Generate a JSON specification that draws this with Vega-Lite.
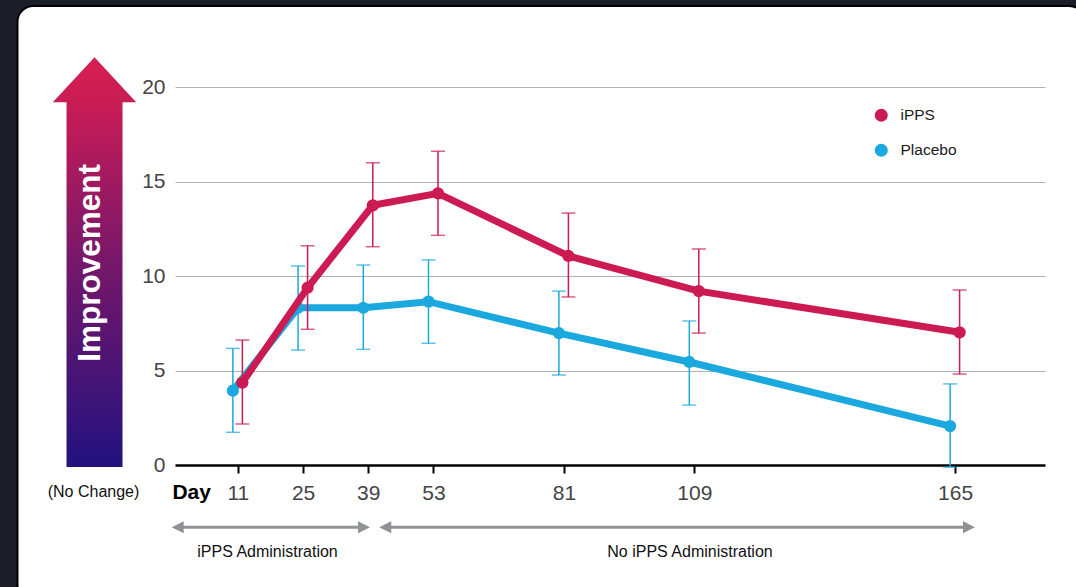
{
  "$schema": "https://vega.github.io/schema/vega-lite/v6.json",
  "width": 870,
  "height": 378,
  "autosize": {"type": "none"},
  "padding": {"left": 175, "top": 87, "right": 31, "bottom": 122},
  "background": "#ffffff",
  "config": {
    "view": {"stroke": null},
    "font": "Liberation Sans",
    "axisX": {"domainColor": "#000000", "domainWidth": 2.5, "tickColor": "#000000", "tickWidth": 2, "tickSize": 8, "labelFontSize": 21, "labelColor": "#444444", "labelPadding": 9, "grid": false, "labelFont": "Liberation Sans", "title": null},
    "axisY": {"domain": false, "ticks": false, "tickSize": 0, "labelPadding": 10, "labelFontSize": 21, "labelColor": "#444444", "grid": true, "gridColor": "#b3b3b3", "gridWidth": 1, "labelFont": "Liberation Sans", "title": null}
  },
  "datasets": {
    "one": [{"k": 1}],
    "labels": [
      {"t": "Improvement"}
    ]
  },
  "data": {
    "values": [
      {"day": 11, "group": "iPPS", "mean": 4.36, "lo": 2.17, "hi": 6.61},
      {"day": 25, "group": "iPPS", "mean": 9.38, "lo": 7.18, "hi": 11.6},
      {"day": 39, "group": "iPPS", "mean": 13.74, "lo": 11.55, "hi": 15.99},
      {"day": 53, "group": "iPPS", "mean": 14.37, "lo": 12.15, "hi": 16.6},
      {"day": 81, "group": "iPPS", "mean": 11.06, "lo": 8.89, "hi": 13.33},
      {"day": 109, "group": "iPPS", "mean": 9.2, "lo": 6.98, "hi": 11.43},
      {"day": 165, "group": "iPPS", "mean": 7.02, "lo": 4.81, "hi": 9.26},
      {"day": 11, "group": "Placebo", "mean": 3.93, "lo": 1.73, "hi": 6.17},
      {"day": 25, "group": "Placebo", "mean": 8.32, "lo": 6.08, "hi": 10.53},
      {"day": 39, "group": "Placebo", "mean": 8.32, "lo": 6.12, "hi": 10.58},
      {"day": 53, "group": "Placebo", "mean": 8.64, "lo": 6.44, "hi": 10.85},
      {"day": 81, "group": "Placebo", "mean": 6.98, "lo": 4.76, "hi": 9.2},
      {"day": 109, "group": "Placebo", "mean": 5.45, "lo": 3.17, "hi": 7.62},
      {"day": 165, "group": "Placebo", "mean": 2.06, "lo": -0.12, "hi": 4.29}
    ]
  },
  "layer": [
    {
      "data": {"name": "one"},
      "mark": {"type": "rect", "fillOpacity": 0, "stroke": "#1b1d28", "strokeWidth": 40, "cornerRadius": 36},
      "encoding": {
        "x": {"datum": -40.61, "type": "quantitative"},
        "x2": {"datum": 197.2},
        "y": {"datum": 25.34, "type": "quantitative"},
        "y2": {"datum": -8.2}
      }
    },
    {
      "data": {"name": "one"},
      "mark": {"type": "rect", "fillOpacity": 0, "stroke": "#000000", "strokeWidth": 2, "cornerRadius": 16},
      "encoding": {
        "x": {"datum": -36.32, "type": "quantitative"},
        "x2": {"datum": 192.9},
        "y": {"datum": 24.29, "type": "quantitative"},
        "y2": {"datum": -7.2}
      }
    },
    {
      "data": {"name": "one"},
      "mark": {
        "type": "point",
        "shape": "M0,-1L0.2036,-0.7806L0.1367,-0.7806L0.1367,1L-0.1367,1L-0.1367,-0.7806L-0.2036,-0.7806Z",
        "size": 167854,
        "filled": true,
        "opacity": 1,
        "strokeWidth": 0,
        "fill": {"gradient": "linear", "x1": 0, "y1": 0, "x2": 0, "y2": 1, "stops": [{"offset": 0, "color": "#d61f51"}, {"offset": 0.12, "color": "#c81c56"}, {"offset": 0.5, "color": "#76176a"}, {"offset": 1, "color": "#22127f"}]}
      },
      "encoding": {
        "x": {"datum": -19.78, "type": "quantitative"},
        "y": {"datum": 10.73, "type": "quantitative"}
      }
    },
    {
      "data": {"name": "labels"},
      "mark": {"type": "text", "angle": 270, "align": "center", "baseline": "middle", "color": "#ffffff", "fontSize": 31.5, "fontWeight": "bold", "font": "Liberation Sans"},
      "encoding": {
        "x": {"datum": -20.54, "type": "quantitative"},
        "y": {"datum": 10.69, "type": "quantitative"},
        "text": {"field": "t"}
      }
    },
    {
      "data": {"values": [{"t": "(No Change)"}]},
      "mark": {"type": "text", "align": "center", "baseline": "middle", "color": "#111111", "fontSize": 16, "font": "Liberation Sans"},
      "encoding": {
        "x": {"datum": -20.0, "type": "quantitative"},
        "y": {"datum": -1.43, "type": "quantitative"},
        "text": {"field": "t"}
      }
    },
    {
      "data": {"values": [{"t": "Day"}]},
      "mark": {"type": "text", "align": "center", "baseline": "middle", "color": "#000000", "fontSize": 21, "fontWeight": "bold", "font": "Liberation Sans"},
      "encoding": {
        "x": {"datum": 1.09, "type": "quantitative"},
        "y": {"datum": -1.47, "type": "quantitative"},
        "text": {"field": "t"}
      }
    },
    {
      "data": {"name": "one"},
      "mark": {"type": "rule", "color": "#8f9194", "strokeWidth": 3},
      "encoding": {
        "x": {"datum": -1.92, "type": "quantitative"},
        "x2": {"datum": 38.08},
        "y": {"datum": -3.3, "type": "quantitative"}
      }
    },
    {
      "data": {"name": "one"},
      "mark": {"type": "rule", "color": "#8f9194", "strokeWidth": 3},
      "encoding": {
        "x": {"datum": 42.65, "type": "quantitative"},
        "x2": {"datum": 167.98},
        "y": {"datum": -3.3, "type": "quantitative"}
      }
    },
    {
      "data": {"name": "one"},
      "mark": {"type": "point", "shape": "M1,-1L-1,0L1,1Z", "size": 144, "filled": true, "opacity": 1, "color": "#8f9194", "strokeWidth": 0},
      "encoding": {
        "x": {"datum": -1.92, "type": "quantitative"},
        "y": {"datum": -3.3, "type": "quantitative"}
      }
    },
    {
      "data": {"name": "one"},
      "mark": {"type": "point", "shape": "M-1,-1L1,0L-1,1Z", "size": 144, "filled": true, "opacity": 1, "color": "#8f9194", "strokeWidth": 0},
      "encoding": {
        "x": {"datum": 38.08, "type": "quantitative"},
        "y": {"datum": -3.3, "type": "quantitative"}
      }
    },
    {
      "data": {"name": "one"},
      "mark": {"type": "point", "shape": "M1,-1L-1,0L1,1Z", "size": 144, "filled": true, "opacity": 1, "color": "#8f9194", "strokeWidth": 0},
      "encoding": {
        "x": {"datum": 42.65, "type": "quantitative"},
        "y": {"datum": -3.3, "type": "quantitative"}
      }
    },
    {
      "data": {"name": "one"},
      "mark": {"type": "point", "shape": "M-1,-1L1,0L-1,1Z", "size": 144, "filled": true, "opacity": 1, "color": "#8f9194", "strokeWidth": 0},
      "encoding": {
        "x": {"datum": 167.98, "type": "quantitative"},
        "y": {"datum": -3.3, "type": "quantitative"}
      }
    },
    {
      "data": {"values": [{"t": "iPPS Administration"}]},
      "mark": {"type": "text", "align": "center", "baseline": "middle", "color": "#111111", "fontSize": 16, "font": "Liberation Sans"},
      "encoding": {
        "x": {"datum": 17.36, "type": "quantitative"},
        "y": {"datum": -4.59, "type": "quantitative"},
        "text": {"field": "t"}
      }
    },
    {
      "data": {"values": [{"t": "No iPPS Administration"}]},
      "mark": {"type": "text", "align": "center", "baseline": "middle", "color": "#111111", "fontSize": 16, "font": "Liberation Sans"},
      "encoding": {
        "x": {"datum": 108.08, "type": "quantitative"},
        "y": {"datum": -4.59, "type": "quantitative"},
        "text": {"field": "t"}
      }
    },
    {
      "transform": [{"filter": "datum.group === 'Placebo'"}],
      "encoding": {
        "x": {"field": "day", "type": "quantitative", "scale": {"domain": [-2.5, 184.3], "nice": false, "zero": false}, "axis": {"values": [11, 25, 39, 53, 81, 109, 165], "title": null}}
      },
      "layer": [
        {
          "mark": {"type": "rule", "color": "#1ba8de", "strokeWidth": 1.5, "xOffset": -5},
          "encoding": {
            "y": {"field": "lo", "type": "quantitative", "scale": {"domain": [0, 20], "nice": false}, "axis": {"values": [0, 5, 10, 15, 20], "title": null}},
            "y2": {"field": "hi"}
          }
        },
        {
          "mark": {"type": "tick", "orient": "horizontal", "color": "#1ba8de", "size": 14, "thickness": 1.5, "xOffset": -5},
          "encoding": {"y": {"field": "lo", "type": "quantitative"}}
        },
        {
          "mark": {"type": "tick", "orient": "horizontal", "color": "#1ba8de", "size": 14, "thickness": 1.5, "xOffset": -5},
          "encoding": {"y": {"field": "hi", "type": "quantitative"}}
        },
        {
          "mark": {"type": "line", "color": "#1ba8de", "strokeWidth": 7, "xOffset": -5},
          "encoding": {"y": {"field": "mean", "type": "quantitative"}}
        },
        {
          "mark": {"type": "point", "filled": true, "opacity": 1, "size": 150, "xOffset": -5},
          "encoding": {
            "y": {"field": "mean", "type": "quantitative"},
            "color": {"field": "group", "type": "nominal", "scale": {"domain": ["iPPS", "Placebo"], "range": ["#cc1a52", "#1ba8de"]}, "legend": {"title": null, "orient": "none", "legendX": 698.5, "legendY": 20.5, "padding": 0, "symbolType": "circle", "symbolSize": 169, "symbolStrokeWidth": 0, "labelFontSize": 15.5, "labelColor": "#1a1a1a", "labelOffset": 11.5, "rowPadding": 18, "labelFont": "Liberation Sans"}}
          }
        }
      ]
    },
    {
      "transform": [{"filter": "datum.group === 'iPPS'"}],
      "encoding": {
        "x": {"field": "day", "type": "quantitative", "scale": {"domain": [-2.5, 184.3], "nice": false, "zero": false}, "axis": {"values": [11, 25, 39, 53, 81, 109, 165], "title": null}}
      },
      "layer": [
        {
          "mark": {"type": "rule", "color": "#cc1a52", "strokeWidth": 1.5, "xOffset": 4.5},
          "encoding": {
            "y": {"field": "lo", "type": "quantitative", "scale": {"domain": [0, 20], "nice": false}, "axis": {"values": [0, 5, 10, 15, 20], "title": null}},
            "y2": {"field": "hi"}
          }
        },
        {
          "mark": {"type": "tick", "orient": "horizontal", "color": "#cc1a52", "size": 14, "thickness": 1.5, "xOffset": 4.5},
          "encoding": {"y": {"field": "lo", "type": "quantitative"}}
        },
        {
          "mark": {"type": "tick", "orient": "horizontal", "color": "#cc1a52", "size": 14, "thickness": 1.5, "xOffset": 4.5},
          "encoding": {"y": {"field": "hi", "type": "quantitative"}}
        },
        {
          "mark": {"type": "line", "color": "#cc1a52", "strokeWidth": 7, "xOffset": 4.5},
          "encoding": {"y": {"field": "mean", "type": "quantitative"}}
        },
        {
          "mark": {"type": "point", "filled": true, "opacity": 1, "size": 150, "xOffset": 4.5},
          "encoding": {
            "y": {"field": "mean", "type": "quantitative"},
            "color": {"field": "group", "type": "nominal", "scale": {"domain": ["iPPS", "Placebo"], "range": ["#cc1a52", "#1ba8de"]}}
          }
        }
      ]
    }
  ]
}
